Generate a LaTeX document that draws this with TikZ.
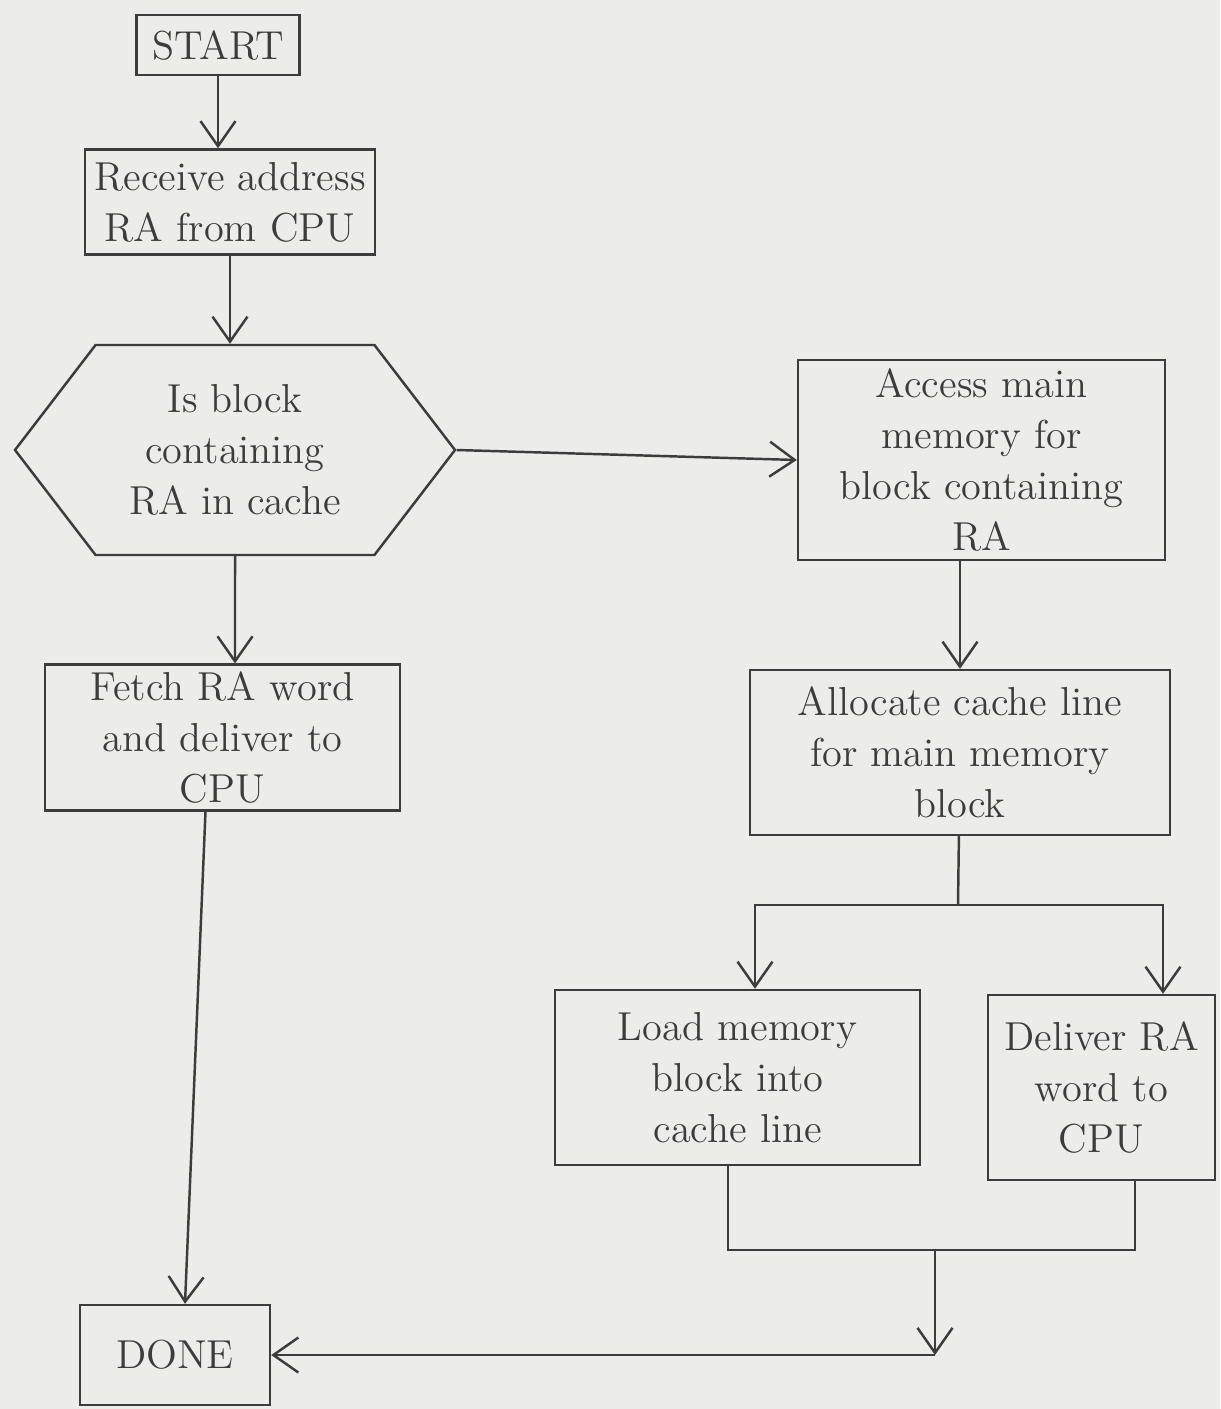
\documentclass[tikz,border=0pt]{standalone}
\usepackage{tikz}
\usetikzlibrary{shapes.symbols, arrows.meta, positioning, calc}
\definecolor{paper}{RGB}{236, 236, 233}
\definecolor{ink}{RGB}{60, 60, 60}

\begin{document}
\begin{tikzpicture}[every node/.style={font=\fontsize{11.5}{14.5}\selectfont, text=ink},
  stepbox/.style={rectangle, draw=ink, line width=0.7pt, align=center, inner sep=2pt},
  arr/.style={draw=ink, line width=0.7pt, -{Straight Barb[length=2.5mm, width=3.5mm]}},
  wire/.style={draw=ink, line width=0.7pt}]
\fill[paper] (0,0) rectangle (12.2,-14.09);
\useasboundingbox (0,0) rectangle (12.2,-14.09);

\node[stepbox, minimum width=1.63cm, minimum height=0.6cm] (start) at (2.18,-0.45) {START};
\node[stepbox, minimum width=2.9cm, minimum height=1.05cm] (recv) at (2.30,-2.02) {Receive address \\ RA from CPU};
\node[signal, signal to=west and east, signal pointer angle=105, draw=ink, line width=0.7pt, align=center, minimum width=4.4cm, minimum height=2.1cm, inner sep=1pt] (check) at (2.35,-4.5) {Is block \\ containing \\ RA in cache};
\node[stepbox, minimum width=3.67cm, minimum height=2.0cm] (access) at (9.815,-4.6) {Access main \\ memory for \\ block containing \\ RA};
\node[stepbox, minimum width=3.55cm, minimum height=1.45cm] (fetch) at (2.225,-7.375) {Fetch RA word \\ and deliver to \\ CPU};
\node[stepbox, minimum width=4.2cm, minimum height=1.65cm] (alloc) at (9.6,-7.525) {Allocate cache line \\ for main memory \\ block};
\node[stepbox, minimum width=3.65cm, minimum height=1.75cm] (load) at (7.375,-10.775) {Load memory \\ block into \\ cache line};
\node[stepbox, minimum width=2.27cm, minimum height=1.85cm] (deliver) at (11.015,-10.875) {Deliver RA \\ word to \\ CPU};
\node[stepbox, minimum width=1.9cm, minimum height=1.0cm] (done) at (1.75,-13.55) {DONE};

% branch and merge points
\coordinate (split) at (9.58,-9.05);
\coordinate (splitL) at (7.55,-9.05);
\coordinate (splitR) at (11.63,-9.05);
\coordinate (joinL) at (7.28,-12.5);
\coordinate (joinR) at (11.35,-12.5);
\coordinate (join) at (9.35,-12.5);

\draw[arr] (start) -- (start |- recv.north);
\draw[arr] (recv) -- (recv |- check.north);
\draw[arr] (check.east) -- (access.west);
\draw[arr] (check) -- (check |- fetch.north);
\draw[arr] (alloc |- access.south) -- (alloc);
\draw[wire] (alloc) -- (split);
\draw[arr] (split) -- (splitL) -- (splitL |- load.north);
\draw[arr] (split) -- (splitR) -- (splitR |- deliver.north);
\draw[wire] (load.south -| joinL) -- (joinL) -- (joinR) -- (deliver.south -| joinR);
\draw[arr] (join) -- (join |- done);
\draw[arr] (join |- done) -- (done);
\draw[arr] ($(fetch.south)+(-0.17,0)$) -- ($(done.north)+(0.1,0)$);
\end{tikzpicture}
\end{document}
